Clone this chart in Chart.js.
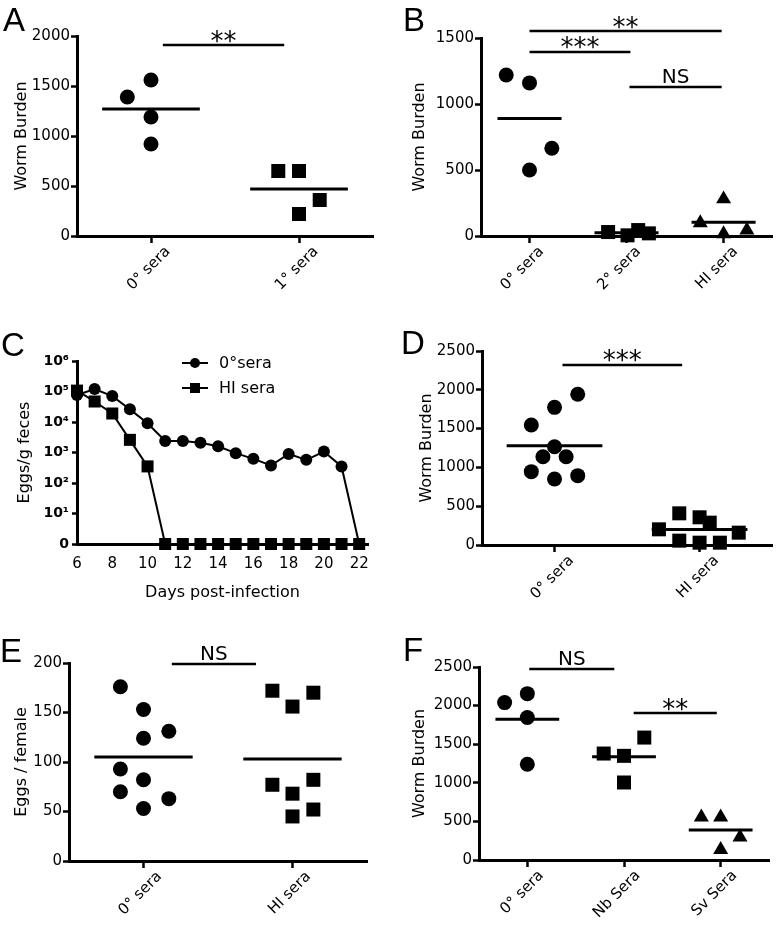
<!DOCTYPE html>
<html><head><meta charset="utf-8">
<script src="https://cdn.jsdelivr.net/npm/chart.js@4.4.1/dist/chart.umd.min.js"></script>
<style>
html,body{margin:0;padding:0;background:#fff;}
body{width:782px;height:927px;position:relative;overflow:hidden;}
canvas{position:absolute;}
.letter{position:absolute;font-family:"Liberation Sans",Arial,sans-serif;font-size:33px;line-height:1;color:#000;z-index:2;}
</style></head><body>
<div class="letter" style="left:3px;top:3px">A</div>
<div class="letter" style="left:403px;top:3px">B</div>
<div class="letter" style="left:1px;top:328px">C</div>
<div class="letter" style="left:401px;top:326px">D</div>
<div class="letter" style="left:0px;top:634px">E</div>
<div class="letter" style="left:403px;top:633px">F</div>
<canvas id="cA" style="left:0;top:0" width="391" height="305"></canvas>
<canvas id="cB" style="left:391px;top:0" width="391" height="305"></canvas>
<canvas id="cC" style="left:0;top:305px" width="391" height="305"></canvas>
<canvas id="cD" style="left:391px;top:305px" width="391" height="305"></canvas>
<canvas id="cE" style="left:0;top:610px" width="391" height="317"></canvas>
<canvas id="cF" style="left:391px;top:610px" width="391" height="317"></canvas>
<script>
// ---------------- DATA ----------------
// Panel A
const catsA = ['0° sera', '1° sera'];
const yTicksA = [0, 500, 1000, 1500, 2000];
const a0 = [1390, 1560, 1190, 920];
const a0x = [-0.16, 0, 0, 0];
const a1 = [650, 650, 360, 220];
const a1x = [-0.14, 0, 0.14, 0];
const meansA = [1270, 470];
const sigA = [{from: 0.08, to: 0.9, y: 1910, label: '**'}];

// Panel B
const catsB = ['0° sera', '2° sera', 'HI sera'];
const yTicksB = [0, 500, 1000, 1500];
const b0 = [1220, 1160, 665, 500];
const b0x = [-0.24, 0, 0.23, 0];
const b1 = [30, 5, 45, 20];
const b1x = [-0.19, 0.01, 0.12, 0.23];
const b2 = [100, 280, 15, 45];
const b2x = [-0.24, 0, 0, 0.24];
const meansB = [890, 25, 105];
const sigB = [
  {from: 0, to: 1.98, y: 1553, label: '**'},
  {from: 0, to: 1.04, y: 1394, label: '***'},
  {from: 1.03, to: 1.98, y: 1129, label: 'NS'}
];

// Panel C
const daysC = [6, 7, 8, 9, 10, 11, 12, 13, 14, 15, 16, 17, 18, 19, 20, 21, 22];
const eggs0 = [77000, 120000, 71000, 26000, 9100, 2400, 2400, 2100, 1600, 950, 620, 375, 900, 575, 1070, 350, 0];
const eggsHI = [107000, 47000, 19000, 2600, 350, 0, 0, 0, 0, 0, 0, 0, 0, 0, 0, 0, 0];
const xTicksC = [6, 8, 10, 12, 14, 16, 18, 20, 22];
const yTicksC = [0, 1, 2, 3, 4, 5, 6];
const labelsC = ['0°sera', 'HI sera'];

// Panel D
const catsD = ['0° sera', 'HI sera'];
const yTicksD = [0, 500, 1000, 1500, 2000, 2500];
const d0 = [1547, 1774, 1942, 1267, 1138, 1138, 945, 850, 894];
const d0x = [-0.16, 0, 0.16, 0, -0.08, 0.08, -0.16, 0, 0.16];
const d1 = [408, 357, 288, 202, 159, 56, 30, 30];
const d1x = [-0.14, 0, 0.07, -0.28, 0.27, -0.14, 0, 0.14];
const meansD = [1280, 200];
const sigD = [{from: 0.055, to: 0.88, y: 2320, label: '***'}];

// Panel E
const catsE = ['0° sera', 'HI sera'];
const yTicksE = [0, 50, 100, 150, 200];
const e0 = [176, 153, 131, 124, 93, 82, 70, 63, 53];
const e0x = [-0.155, 0, 0.17, 0, -0.155, 0, -0.155, 0.17, 0];
const e1 = [172, 170, 156, 82, 77, 68, 52, 45];
const e1x = [-0.135, 0.14, 0, 0.14, -0.135, 0, 0.14, 0];
const meansE = [105, 103];
const sigE = [{from: 0.19, to: 0.755, y: 199, label: 'NS'}];

// Panel F
const catsF = ['0° sera', 'Nb Sera', 'Sv Sera'];
const yTicksF = [0, 500, 1000, 1500, 2000, 2500];
const f0 = [2039, 2155, 1845, 1241];
const f0x = [-0.235, 0, 0, 0];
const f1 = [1379, 1349, 1586, 1004];
const f1x = [-0.21, 0, 0.21, 0];
const f2 = [555, 555, 295, 135];
const f2x = [-0.2, 0, 0.2, 0];
const meansF = [1823, 1336, 388];
const sigF = [
  {from: 0.02, to: 0.9, y: 2474, label: 'NS'},
  {from: 1.1, to: 1.96, y: 1904, label: '**'}
];

// ---------------- RENDERING ----------------
const FAM = "'DejaVu Sans', sans-serif";
Chart.defaults.font.family = FAM;
Chart.defaults.color = '#000';
const R = {circle: 7.5, rect: 9.9, triangle: 8.66};
const HALF = 0.33;
const SUP = ['⁰', '¹', '²', '³', '⁴', '⁵', '⁶'];

function layoutFor(box, area) {
  return {padTop: area.t - box.y, padRight: box.x + box.w - area.r, yW: area.l - box.x, xH: box.y + box.h - area.b};
}

const sigPlugin = {
  id: 'sig',
  afterDatasetsDraw(chart, args, opts) {
    const items = opts.items || [];
    const {ctx} = chart;
    const xs = chart.scales.x, ys = chart.scales.y;
    ctx.save();
    items.forEach(it => {
      const x1 = xs.getPixelForValue(it.from), x2 = xs.getPixelForValue(it.to), py = ys.getPixelForValue(it.y);
      ctx.strokeStyle = '#000'; ctx.lineWidth = 2.5;
      ctx.beginPath(); ctx.moveTo(x1, py); ctx.lineTo(x2, py); ctx.stroke();
      const star = /^\*+$/.test(it.label);
      ctx.font = (star ? '26px ' : '20px ') + FAM;
      ctx.fillStyle = '#000'; ctx.textAlign = 'center'; ctx.textBaseline = 'alphabetic';
      const m = ctx.measureText(it.label);
      const center = py - (star ? 9 : 11);
      const base = center + (m.actualBoundingBoxAscent - m.actualBoundingBoxDescent) / 2;
      ctx.fillText(it.label, (x1 + x2) / 2, base);
    });
    ctx.restore();
  }
};

function axisGrid(len) {
  return {drawOnChartArea: false, drawTicks: true, tickLength: len, tickWidth: 2.5, tickColor: '#000'};
}
const BORDER = {display: true, color: '#000', width: 3};

function scatterPanel(id, box, area, cats, yTicks, yTitle, titlePad, lblOff, groups, means, sigs) {
  const L = layoutFor(box, area);
  const datasets = [];
  means.forEach((m, i) => datasets.push({
    data: [{x: i - HALF, y: m}, {x: i + HALF, y: m}], showLine: true,
    borderColor: '#000', borderWidth: 3, pointRadius: 0, clip: false
  }));
  groups.forEach((g, i) => datasets.push({
    data: g.v.map((v, k) => ({x: i + g.j[k], y: v})),
    pointStyle: g.style, pointRadius: R[g.style], pointHoverRadius: R[g.style],
    backgroundColor: '#000', borderColor: '#000', borderWidth: 0, showLine: false, clip: false
  }));
  new Chart(document.getElementById(id), {
    type: 'scatter',
    data: {datasets},
    plugins: [sigPlugin],
    options: {
      responsive: false, animation: false, events: [],
      layout: {padding: {top: L.padTop, right: L.padRight, left: 0, bottom: 0}},
      plugins: {legend: {display: false}, tooltip: {enabled: false}, sig: {items: sigs}},
      scales: {
        x: {
          type: 'linear', min: -0.5, max: cats.length - 0.5,
          afterBuildTicks: s => { s.ticks = cats.map((c, i) => ({value: i})); },
          afterFit: s => { s.height = L.xH; },
          grid: axisGrid(7), border: BORDER,
          ticks: {autoSkip: false, minRotation: 45, maxRotation: 45, padding: 0, labelOffset: lblOff,
                  font: {size: 15}, color: '#000', callback: v => cats[v]}
        },
        y: {
          min: yTicks[0], max: yTicks[yTicks.length - 1],
          afterBuildTicks: s => { s.ticks = yTicks.map(v => ({value: v})); },
          afterFit: s => { s.width = L.yW; },
          grid: axisGrid(6), border: BORDER,
          ticks: {padding: 1, font: {size: 15}, color: '#000', callback: v => String(v)},
          title: {display: true, text: yTitle, font: {size: 16}, color: '#000', padding: {top: titlePad, bottom: 0}}
        }
      }
    }
  });
}

scatterPanel('cA', {x: 0, y: 0, w: 391, h: 305}, {l: 77, r: 373, t: 36, b: 236}, catsA, yTicksA, 'Worm Burden', 12.4, 17,
  [{v: a0, j: a0x, style: 'circle'}, {v: a1, j: a1x, style: 'rect'}], meansA, sigA);
scatterPanel('cB', {x: 391, y: 0, w: 391, h: 305}, {l: 481, r: 779, t: 38, b: 236}, catsB, yTicksB, 'Worm Burden', 19.4, 12,
  [{v: b0, j: b0x, style: 'circle'}, {v: b1, j: b1x, style: 'rect'}, {v: b2, j: b2x, style: 'triangle'}], meansB, sigB);
scatterPanel('cD', {x: 391, y: 305, w: 391, h: 305}, {l: 482, r: 773, t: 351, b: 545}, catsD, yTicksD, 'Worm Burden', 26.4, 17,
  [{v: d0, j: d0x, style: 'circle'}, {v: d1, j: d1x, style: 'rect'}], meansD, sigD);
scatterPanel('cE', {x: 0, y: 610, w: 391, h: 317}, {l: 69, r: 367, t: 663, b: 861}, catsE, yTicksE, 'Eggs / female', 12.4, 16,
  [{v: e0, j: e0x, style: 'circle'}, {v: e1, j: e1x, style: 'rect'}], meansE, sigE);
scatterPanel('cF', {x: 391, y: 610, w: 391, h: 317}, {l: 479, r: 769, t: 667, b: 860}, catsF, yTicksF, 'Worm Burden', 19.4, 14,
  [{v: f0, j: f0x, style: 'circle'}, {v: f1, j: f1x, style: 'rect'}, {v: f2, j: f2x, style: 'triangle'}], meansF, sigF);

// Panel C: time course on log axis (0 shown at bottom)
const toLog = v => v > 0 ? Math.log10(v) : 0;
const legendPlugin = {
  id: 'legendC',
  afterDraw(chart, args, opts) {
    const {ctx, chartArea: ca} = chart;
    ctx.save();
    chart.data.datasets.forEach((ds, k) => {
      const y = ca.top + opts.dy + k * opts.gap;
      const x0 = ca.left + opts.dx;
      ctx.strokeStyle = '#000'; ctx.lineWidth = ds.borderWidth;
      ctx.beginPath(); ctx.moveTo(x0, y); ctx.lineTo(x0 + opts.len, y); ctx.stroke();
      ctx.fillStyle = '#000';
      const cx = x0 + opts.len / 2;
      ctx.beginPath();
      if (ds.pointStyle === 'circle') ctx.arc(cx, y, opts.r, 0, Math.PI * 2);
      else ctx.rect(cx - opts.r, y - opts.r, opts.r * 2, opts.r * 2);
      ctx.fill();
      ctx.font = '16px ' + FAM; ctx.textAlign = 'left'; ctx.textBaseline = 'middle';
      ctx.fillText(ds.label, x0 + opts.len + 11, y + 1);
    });
    ctx.restore();
  }
};
(function () {
  const box = {x: 0, y: 305, w: 391, h: 305}, area = {l: 77, r: 368, t: 361, b: 544};
  const L = layoutFor(box, area);
  const line = (vals, label, style, r, order) => ({
    label, order,
    data: daysC.map((d, i) => ({x: d, y: toLog(vals[i])})),
    showLine: true, borderColor: '#000', borderWidth: 2, tension: 0,
    pointStyle: style, pointRadius: r, pointHoverRadius: r,
    pointBackgroundColor: '#000', pointBorderWidth: 0, clip: false
  });
  new Chart(document.getElementById('cC'), {
    type: 'scatter',
    data: {datasets: [line(eggs0, labelsC[0], 'circle', 6, 1), line(eggsHI, labelsC[1], 'rect', 8.5, 0)]},
    plugins: [legendPlugin],
    options: {
      responsive: false, animation: false, events: [],
      layout: {padding: {top: L.padTop, right: L.padRight, left: 0, bottom: 0}},
      plugins: {legend: {display: false}, tooltip: {enabled: false},
                legendC: {dx: 105, dy: 2, gap: 25, len: 26, r: 5}},
      scales: {
        x: {
          type: 'linear', min: 6, max: 22.5,
          afterBuildTicks: s => { s.ticks = xTicksC.map(v => ({value: v})); },
          afterFit: s => { s.height = L.xH; },
          grid: {drawOnChartArea: false, drawTicks: false}, border: BORDER,
          ticks: {padding: 11, maxRotation: 0, font: {size: 15}, color: '#000', callback: v => String(v)},
          title: {display: true, text: 'Days post-infection', font: {size: 16}, color: '#000', padding: {top: 0, bottom: 7.4}}
        },
        y: {
          min: 0, max: 6,
          afterBuildTicks: s => { s.ticks = yTicksC.map(v => ({value: v})); },
          afterFit: s => { s.width = L.yW; },
          grid: axisGrid(5), border: BORDER,
          ticks: {padding: 3, font: {size: 14, weight: 'bold'}, color: '#000',
                  callback: v => v === 0 ? '0' : '10' + SUP[v]},
          title: {display: true, text: 'Eggs/g feces', font: {size: 16}, color: '#000', padding: {top: 15.4, bottom: 0}}
        }
      }
    }
  });
})();
</script>
</body></html>
